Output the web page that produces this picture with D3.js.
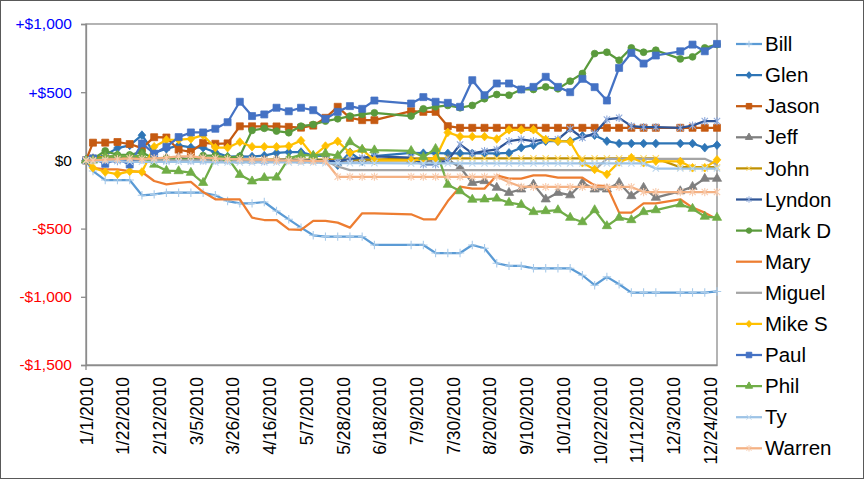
<!DOCTYPE html>
<html><head><meta charset="utf-8">
<script src="https://cdn.jsdelivr.net/npm/d3@7"></script>
<style>body{margin:0;background:#fff} svg{display:block} text{font-family:"Liberation Sans",Arial,sans-serif}</style>
</head><body><svg id="c" width="865" height="480"></svg>
<script>
const dates = ["1/1/2010","1/5/2010","1/12/2010","1/19/2010","1/26/2010","2/2/2010","2/9/2010","2/16/2010","2/23/2010","3/2/2010","3/9/2010","3/16/2010","3/23/2010","3/30/2010","4/6/2010","4/13/2010","4/20/2010","4/27/2010","5/4/2010","5/11/2010","5/18/2010","5/25/2010","6/1/2010","6/8/2010","6/15/2010","7/6/2010","7/13/2010","7/20/2010","7/27/2010","8/3/2010","8/10/2010","8/17/2010","8/24/2010","8/31/2010","9/7/2010","9/14/2010","9/21/2010","9/28/2010","10/5/2010","10/12/2010","10/19/2010","10/26/2010","11/2/2010","11/9/2010","11/16/2010","11/23/2010","12/7/2010","12/14/2010","12/21/2010","12/28/2010"];
const names = ["Bill","Glen","Jason","Jeff","John","Lyndon","Mark D","Mary","Miguel","Mike S","Paul","Phil","Ty","Warren"];
const bill = [0,-78,-144,-144,-144,-256,-249,-237,-237,-237,-237,-256,-298,-315,-315,-305,-371,-432,-493,-549,-559,-559,-559,-559,-620,-620,-620,-679,-679,-679,-620,-644,-754,-773,-773,-791,-791,-791,-791,-842,-915,-854,-908,-969,-969,-969,-969,-969,-969,-961];
const glen = [0,10,40,90,110,185,55,85,110,95,93,60,28,30,28,35,55,61,61,35,33,-35,60,-5,32,56,53,53,51,51,51,51,51,55,93,112,141,141,141,180,185,141,124,124,124,124,124,124,93,112];
const jason = [0,130,130,135,120,90,170,168,78,62,129,122,125,250,250,249,249,246,240,255,312,393,312,295,295,361,356,356,251,239,239,239,239,239,239,239,239,239,239,239,239,239,239,239,239,239,239,239,239,239];
const jeff = [0,10,25,30,20,15,15,15,20,10,10,5,5,0,0,0,5,5,0,0,0,-5,0,0,0,0,-5,0,5,-50,-164,-151,-200,-237,-212,-176,-285,-237,-255,-164,-212,-212,-164,-261,-200,-273,-225,-193,-134,-134];
const john = [0,20,25,25,20,20,5,5,5,5,5,5,5,5,5,5,5,5,5,5,5,5,5,5,5,15,15,15,15,15,15,15,15,15,15,15,15,15,15,15,15,15,15,15,15,15,-50,-50,-50,-50];
const lyndon = [0,0,-5,-5,0,5,5,0,5,0,0,0,0,5,0,-5,0,5,0,0,-5,-5,10,20,30,20,-30,-30,0,117,51,68,80,141,154,141,154,154,230,166,198,300,312,251,244,244,239,256,288,288];
const markD = [0,10,70,40,40,60,10,15,10,10,35,35,20,30,220,235,215,203,251,263,288,305,325,337,349,325,378,393,403,386,403,452,483,478,520,520,539,525,581,637,783,793,734,825,793,808,744,759,825,849];
const mary = [0,-54,-66,-66,-78,-85,-151,-176,-164,-158,-232,-285,-285,-285,-420,-437,-437,-505,-510,-444,-444,-456,-493,-388,-388,-395,-432,-432,-298,-193,-207,-207,-110,-134,-134,-110,-110,-127,-127,-127,-183,-188,-383,-383,-315,-315,-285,-346,-383,-432];
const miguel = [0,5,10,15,10,5,0,0,0,0,0,0,0,-5,-5,-5,-5,-5,-5,-5,-5,-45,-71,-71,-71,-71,-71,-71,-71,-71,-71,-71,-71,-71,-71,-71,-71,-71,-71,-71,-71,12,12,12,12,12,12,12,12,-29];
const mikeS = [0,-54,-85,-100,-80,-85,100,150,152,158,185,93,93,135,100,100,100,105,145,32,105,140,56,80,0,0,5,15,205,175,175,175,157,224,224,225,152,141,137,-17,-66,-102,-11,20,-17,-5,-8,-54,-54,4];
const paul = [0,15,-25,10,-30,124,50,100,171,205,205,232,280,430,325,337,386,360,386,368,305,356,398,378,439,417,464,430,422,393,588,478,564,564,520,539,613,539,500,598,537,439,678,788,710,769,800,849,800,854];
const phil = [0,0,25,35,30,35,-30,-75,-78,-90,-164,20,20,-105,-153,-128,-125,15,40,35,50,35,135,80,75,70,25,85,-178,-225,-287,-285,-279,-310,-325,-378,-371,-364,-420,-452,-364,-481,-420,-437,-378,-364,-322,-354,-412,-420];
const ty = [0,-5,-5,-5,-10,-10,-10,-10,-10,-10,-10,-15,-15,-15,-15,-15,-15,-15,-15,-15,-20,-20,-20,-20,-20,-22,-22,-22,-22,-22,-22,-22,-22,-22,-22,-22,-22,-22,-22,-22,-22,-22,-22,-22,-22,-60,-60,-60,-60,-60];
const warren = [0,0,5,10,15,10,15,20,30,30,20,15,10,10,5,5,0,0,0,-5,-5,-120,-120,-120,-120,-120,-120,-120,-120,-120,-120,-120,-120,-160,-193,-195,-195,-195,-195,-195,-195,-195,-195,-195,-232,-232,-232,-232,-232,-232];
const seriesValues = [bill,glen,jason,jeff,john,lyndon,markD,mary,miguel,mikeS,paul,phil,ty,warren];
const yTickValues = [-1500,-1000,-500,0,500,1000];
const yTickLabels = ["-$1,500","-$1,000","-$500","$0","+$500","+$1,000"];
const xTickLabels = ["1/1/2010","1/22/2010","2/12/2010","3/5/2010","3/26/2010","4/16/2010","5/7/2010","5/28/2010","6/18/2010","7/9/2010","7/30/2010","8/20/2010","9/10/2010","10/1/2010","10/22/2010","11/12/2010","12/3/2010","12/24/2010"];

const styles = [
  {c:"#5B9BD5", m:"plus", mc:"#A9CBEA"},
  {c:"#2E75B6", m:"diamond", mc:"#2E75B6"},
  {c:"#C55A11", m:"square", mc:"#C55A11"},
  {c:"#7F7F7F", m:"triangle", mc:"#7F7F7F"},
  {c:"#BF9000", m:"x", mc:"#FFD966"},
  {c:"#2F5597", m:"star", mc:"#8FAADC"},
  {c:"#5A9A3C", m:"circle", mc:"#5A9A3C"},
  {c:"#ED7D31", m:"none"},
  {c:"#A5A5A5", m:"none"},
  {c:"#FFC000", m:"diamond", mc:"#FFC000"},
  {c:"#4472C4", m:"square", mc:"#4472C4"},
  {c:"#70AD47", m:"triangle", mc:"#70AD47"},
  {c:"#9DC3E6", m:"x", mc:"#BDD7EE"},
  {c:"#F4B183", m:"star", mc:"#F8CBAD"}
];

const parse = d3.timeParse("%m/%d/%Y");
const fmt = d3.timeFormat("%-m/%-d/%Y");
const svg = d3.select("#c");
const L = 86, R = 717, T = 24, B = 365;
const x = d3.scaleTime().domain([parse("1/1/2010"), parse("12/28/2010")]).range([L, R]);
const y = d3.scaleLinear().domain([-1500, 1000]).range([B, T]);

svg.append("rect").attr("x",0.5).attr("y",0.5).attr("width",863).attr("height",478)
  .attr("fill","#fff").attr("stroke","#595959").attr("stroke-width",1);

// plot border
svg.append("rect").attr("x",L).attr("y",T).attr("width",R-L).attr("height",B-T)
  .attr("fill","none").attr("stroke","#8c8c8c").attr("stroke-width",1.3);

// y axis
const yAxis = d3.axisLeft(y).tickValues(yTickValues).tickSize(5).tickFormat((d,i)=>yTickLabels[i]);
const ya = svg.append("g").attr("transform",`translate(${L},0)`).call(yAxis);
ya.select(".domain").attr("stroke","#8c8c8c").attr("stroke-width",1.3);
ya.selectAll(".tick line").attr("stroke","#8c8c8c").attr("stroke-width",1.3);
ya.selectAll(".tick text").attr("x",-14).attr("font-size","15.5px").attr("font-family","Liberation Sans, Arial, sans-serif")
  .attr("fill", d => d > 0 ? "#0000FF" : (d < 0 ? "#FF0000" : "#000"));

// x axis
const xTicks = xTickLabels.map(parse);
const xAxis = d3.axisBottom(x).tickValues(xTicks).tickSize(0).tickFormat(fmt);
const xa = svg.append("g").attr("transform",`translate(0,${B})`).call(xAxis);
xa.select(".domain").attr("stroke","#8c8c8c").attr("stroke-width",1.3);
xa.selectAll(".tick text")
  .attr("font-size","17.5px").attr("font-family","Liberation Sans, Arial, sans-serif").attr("fill","#000")
  .attr("text-anchor","end").attr("y",0).attr("x",0).attr("dy","0.35em")
  .attr("transform","translate(0,12) rotate(-90)");
svg.append("line").attr("x1",L).attr("x2",L).attr("y1",B).attr("y2",B+5).attr("stroke","#8c8c8c").attr("stroke-width",1.3);

function markerPath(type, s) {
  switch (type) {
    case "square": return d3.symbol(d3.symbolSquare, s*s)();
    case "diamond": return `M0,${-s*0.62}L${s*0.55},0L0,${s*0.62}L${-s*0.55},0Z`;
    case "triangle": return d3.symbol(d3.symbolTriangle, s*s*0.75)();
    case "circle": return d3.symbol(d3.symbolCircle, s*s*0.75)();
    case "plus": { const h=s*0.6; return `M${-h},0H${h}M0,${-h}V${h}`; }
    case "x": { const h=s*0.45; return `M${-h},${-h}L${h},${h}M${-h},${h}L${h},${-h}`; }
    case "star": { const h=s*0.45; return `M${-h},${-h}L${h},${h}M${-h},${h}L${h},${-h}M0,${-h*1.3}V${h*1.3}`; }
  }
  return null;
}
const filled = t => ["square","diamond","triangle","circle"].includes(t);

const line = d3.line().x(d => x(d.date)).y(d => y(d.v));
const parsedDates = dates.map(parse);

names.forEach((name, i) => {
  const st = styles[i];
  const pts = seriesValues[i].map((v, j) => ({date: parsedDates[j], v}));
  const g = svg.append("g");
  g.append("path").datum(pts).attr("d", line).attr("fill","none")
    .attr("stroke", st.c).attr("stroke-width", 2.25).attr("stroke-linejoin","round");
  if (st.m !== "none") {
    const p = markerPath(st.m, 7);
    g.selectAll("path.m").data(pts).enter().append("path").attr("class","m")
      .attr("d", p).attr("transform", d => `translate(${x(d.date)},${y(d.v)})`)
      .attr("fill", filled(st.m) ? st.mc : "none")
      .attr("stroke", st.mc).attr("stroke-width", filled(st.m) ? 0.75 : 1.1);
  }
});

// legend
const lg = svg.append("g");
names.forEach((name, i) => {
  const st = styles[i];
  const cy = 44 + i * 31.1;
  lg.append("line").attr("x1",736).attr("x2",762).attr("y1",cy).attr("y2",cy)
    .attr("stroke", st.c).attr("stroke-width", 2.25);
  if (st.m !== "none") {
    lg.append("path").attr("d", markerPath(st.m, 5.5)).attr("transform",`translate(749,${cy})`)
      .attr("fill", filled(st.m) ? st.mc : "none").attr("stroke", st.mc).attr("stroke-width", 1);
  }
  lg.append("text").attr("x",765).attr("y",cy).attr("dy","0.35em").attr("font-size","20.5px").attr("fill","#000").text(name);
});
</script>
</body></html>
